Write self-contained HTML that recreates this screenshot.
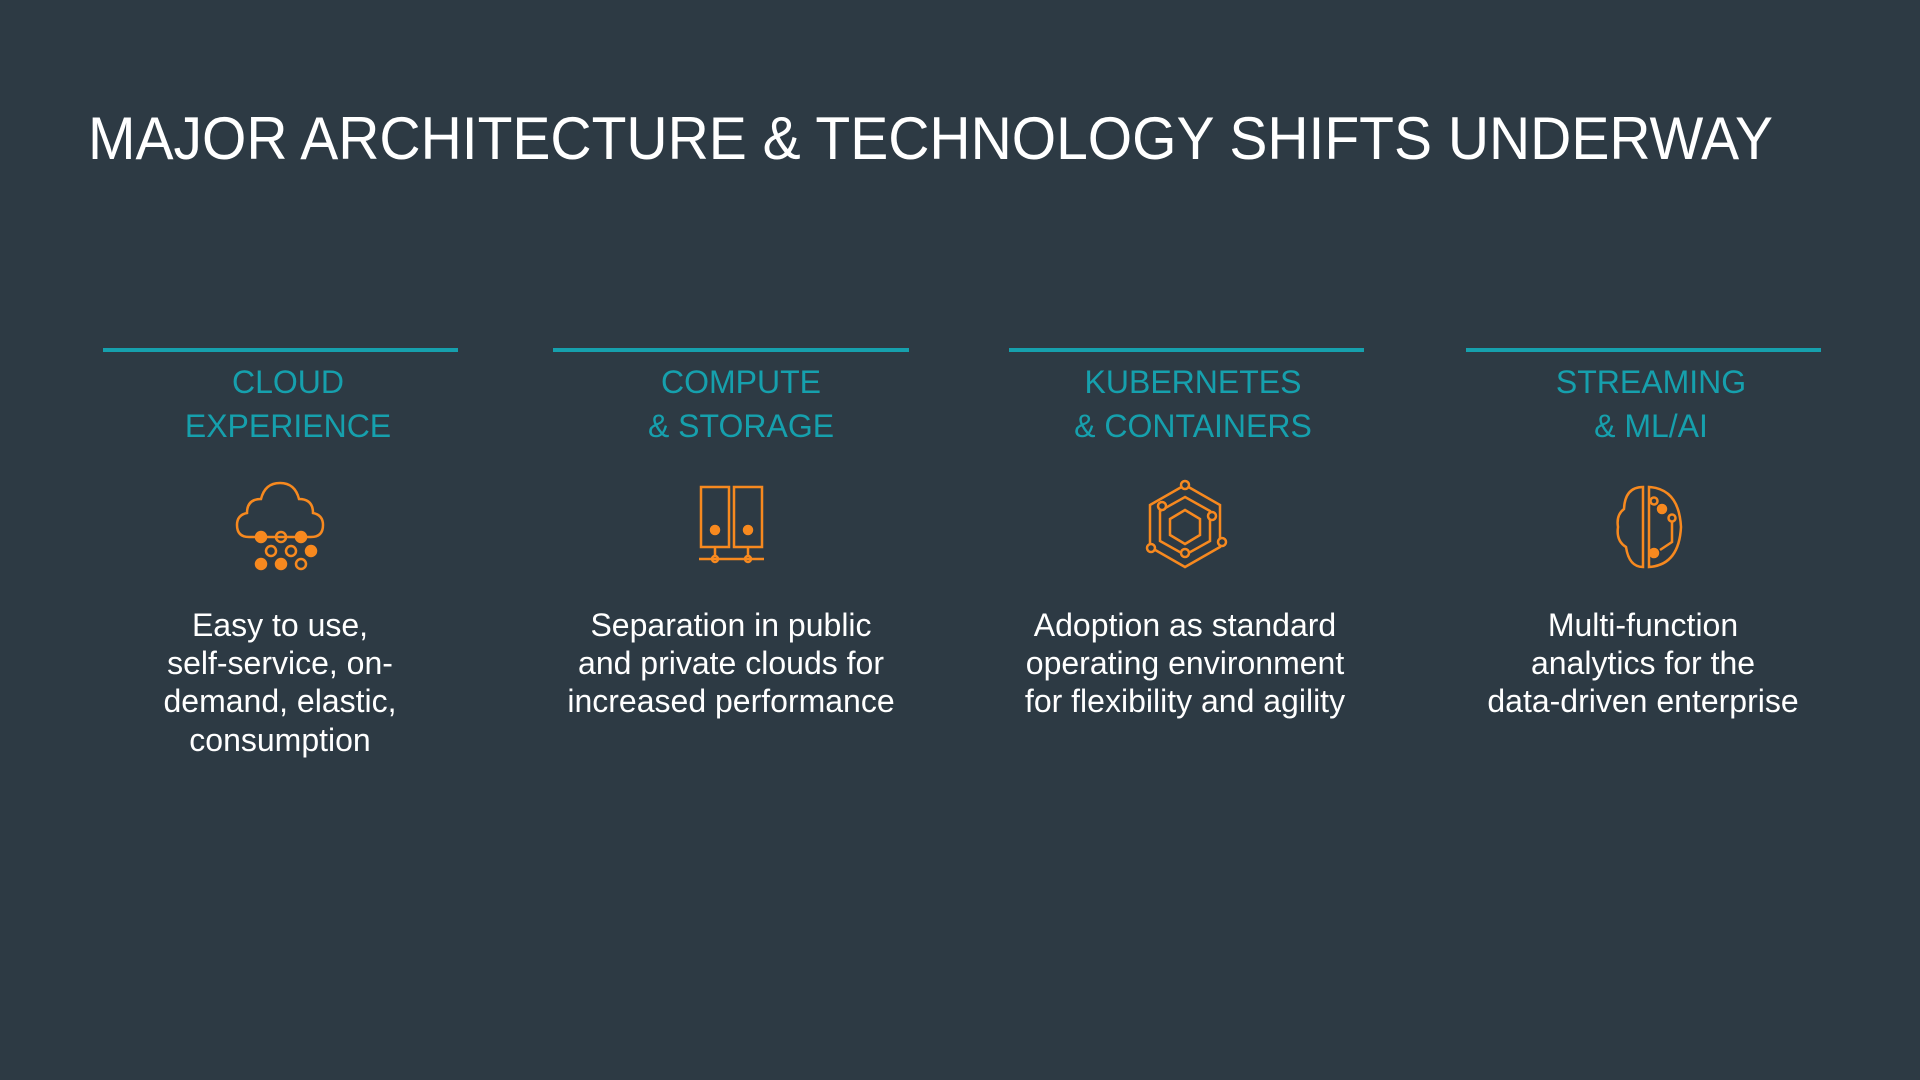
<!DOCTYPE html>
<html><head><meta charset="utf-8"><style>
html,body{margin:0;padding:0;background:#2d3a44;}
svg{display:block}
</style></head><body>
<svg width="1920" height="1080" viewBox="0 0 1920 1080" xmlns="http://www.w3.org/2000/svg">
<rect width="1920" height="1080" fill="#2d3a44"/>
<text x="88" y="159" font-family="Liberation Sans, sans-serif" font-size="60" fill="#ffffff" textLength="1685" lengthAdjust="spacingAndGlyphs">MAJOR ARCHITECTURE &amp; TECHNOLOGY SHIFTS UNDERWAY</text>
<g fill="#16a0ad">
<rect x="103" y="348" width="355" height="4"/>
<rect x="553" y="348" width="356" height="4"/>
<rect x="1009" y="348" width="355" height="4"/>
<rect x="1466" y="348" width="355" height="4"/>
</g>
<g font-family="Liberation Sans, sans-serif" font-size="32" fill="#16a0ad" text-anchor="middle">
<text x="288" y="393">CLOUD</text><text x="288" y="437">EXPERIENCE</text>
<text x="741" y="393">COMPUTE</text><text x="741" y="437">&amp; STORAGE</text>
<text x="1193" y="393">KUBERNETES</text><text x="1193" y="437">&amp; CONTAINERS</text>
<text x="1651" y="393">STREAMING</text><text x="1651" y="437">&amp; ML/AI</text>
</g>
<g font-family="Liberation Sans, sans-serif" font-size="32" fill="#ffffff" text-anchor="middle">
<text x="280" y="636">Easy to use,</text><text x="280" y="674">self-service, on-</text><text x="280" y="712">demand, elastic,</text><text x="280" y="751">consumption</text>
<text x="731" y="636">Separation in public</text><text x="731" y="674">and private clouds for</text><text x="731" y="712">increased performance</text>
<text x="1185" y="636">Adoption as standard</text><text x="1185" y="674">operating environment</text><text x="1185" y="712">for flexibility and agility</text>
<text x="1643" y="636">Multi-function</text><text x="1643" y="674">analytics for the</text><text x="1643" y="712">data-driven enterprise</text>
</g>
<g stroke="#f7891f" stroke-width="2.5" fill="none">
<path d="M249 537 q-12 0 -12 -12 q0 -10 10 -12 q0 -14 14 -14 q4 -16 19 -16 q15 0 19 16 q14 0 14 14 q10 2 10 12 q0 12 -12 12 z"/>
<circle cx="261" cy="537" r="5" fill="#f7891f"/><circle cx="281" cy="537" r="5"/><circle cx="301" cy="537" r="5" fill="#f7891f"/>
<circle cx="271" cy="551" r="5"/><circle cx="291" cy="551" r="5"/><circle cx="311" cy="551" r="5" fill="#f7891f"/>
<circle cx="261" cy="564" r="5" fill="#f7891f"/><circle cx="281" cy="564" r="5" fill="#f7891f"/><circle cx="301" cy="564" r="5"/>
<rect x="701" y="487" width="28" height="60"/><rect x="734" y="487" width="28" height="60"/>
<circle cx="715" cy="530" r="4" fill="#f7891f"/><circle cx="748" cy="530" r="4" fill="#f7891f"/>
<path d="M715 547 v10 M748 547 v10 M699 559 h65"/>
<circle cx="715" cy="559" r="3"/><circle cx="748" cy="559" r="3"/>
<path d="M1185 485 l35 20 v42 l-35 20 l-35 -20 v-42 z"/>
<path d="M1185 497 l25 14 v30 l-25 14 l-25 -14 v-30 z"/>
<path d="M1185 510 l15 9 v16 l-15 9 l-15 -9 v-16 z"/>
<circle cx="1185" cy="485" r="4" fill="#2d3a44"/><circle cx="1162" cy="506" r="4" fill="#2d3a44"/><circle cx="1212" cy="516" r="4" fill="#2d3a44"/><circle cx="1222" cy="542" r="4" fill="#2d3a44"/><circle cx="1151" cy="548" r="4" fill="#2d3a44"/><circle cx="1185" cy="553" r="4" fill="#2d3a44"/>
<path d="M1643 487 q-18 0 -19 22 q-8 6 -6 18 q-2 14 8 20 q3 20 17 20 z"/>
<path d="M1649 487 v80 q30 -2 32 -40 q-2 -38 -32 -40 z"/>
<circle cx="1654" cy="501" r="3.5"/><circle cx="1662" cy="509" r="4" fill="#f7891f"/><circle cx="1672" cy="518" r="3.5"/><circle cx="1654" cy="553" r="4" fill="#f7891f"/>
<path d="M1672 522 v20 l-12 8"/>
</g>
</svg>
</body></html>
